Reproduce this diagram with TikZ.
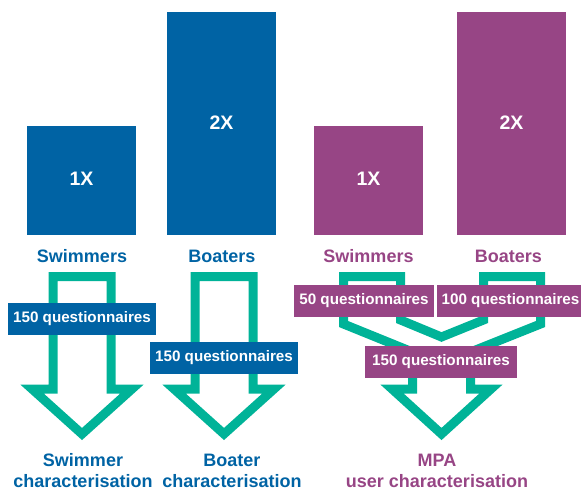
\documentclass[tikz,border=0pt]{standalone}
\usepackage{fontspec}
\setmainfont{Liberation Sans}
\definecolor{myblue}{HTML}{0063A4}
\definecolor{mypurple}{HTML}{974585}
\definecolor{mygreen}{HTML}{00B398}
\begin{document}
\begin{tikzpicture}[x=1pt,y=-1pt,
  bar/.style={anchor=north west,inner sep=0pt,text=white,font=\fontsize{19.5}{20}\selectfont\bfseries},
  lbl/.style={inner sep=0pt,font=\fontsize{18}{21}\selectfont\bfseries,align=center},
  qbox/.style={inner xsep=5pt,inner ysep=0pt,minimum height=32pt,text=white,font=\fontsize{15.2}{16}\selectfont\bfseries},
  flow/.style={draw=mygreen,line width=9pt,line join=miter,miter limit=10}]
\useasboundingbox (0,0) rectangle (581,490);
% bars
\fill[myblue] (27,126) rectangle (136,235);
\node[bar,anchor=center] (b1) at (81.5,179) {1X};
\fill[myblue] (167,12) rectangle (276,235);
\node[bar,anchor=center] (b2) at (221.5,123) {2X};
\fill[mypurple] (314,126) rectangle (423,235);
\node[bar,anchor=center] (b3) at (368.5,179) {1X};
\fill[mypurple] (457,12) rectangle (566,235);
\node[bar,anchor=center] (b4) at (511.5,123) {2X};
% labels
\node[lbl,text=myblue] (l1) at (82,256) {Swimmers};
\node[lbl,text=myblue] (l2) at (222,256) {Boaters};
\node[lbl,text=mypurple] (l3) at (368.5,256) {Swimmers};
\node[lbl,text=mypurple] (l4) at (508.5,256) {Boaters};
% arrows
\draw[flow] (53,276.5) -- (111,276.5) -- (111,389) -- (132,389) -- (82,434) -- (32,389) -- (53,389) -- cycle;
\draw[flow] (195,276.5) -- (253,276.5) -- (253,389) -- (274,389) -- (224,434) -- (174,389) -- (195,389) -- cycle;
\draw[flow] (343.5,276.5) -- (400.5,276.5) -- (400.5,320) -- (441.5,337) -- (483.5,320) -- (483.5,276.5)
  -- (540.5,276.5) -- (540.5,324) -- (470.5,352) -- (470.5,389) -- (491,389) -- (441.5,434)
  -- (392,389) -- (412.5,389) -- (412.5,352) -- (343.5,324) -- cycle;
% boxes
\node[qbox,fill=myblue] (q1) at (82,319) {150 questionnaires};
\node[qbox,fill=myblue] (q2) at (224,357.5) {150 questionnaires};
\node[qbox,fill=mypurple] (q3) at (364,301) {50 questionnaires};
\node[qbox,fill=mypurple] (q4) at (510.5,301) {100 questionnaires};
\node[qbox,fill=mypurple,inner xsep=7pt] (q5) at (441,361.5) {150 questionnaires};
% bottom texts
\node[lbl,text=myblue] (o1) at (83,470.5) {Swimmer\\characterisation};
\node[lbl,text=myblue] (o2) at (232,470.5) {Boater\\characterisation};
\node[lbl,text=mypurple] (o3) at (437,470.5) {MPA\\user characterisation};
\end{tikzpicture}
\end{document}
